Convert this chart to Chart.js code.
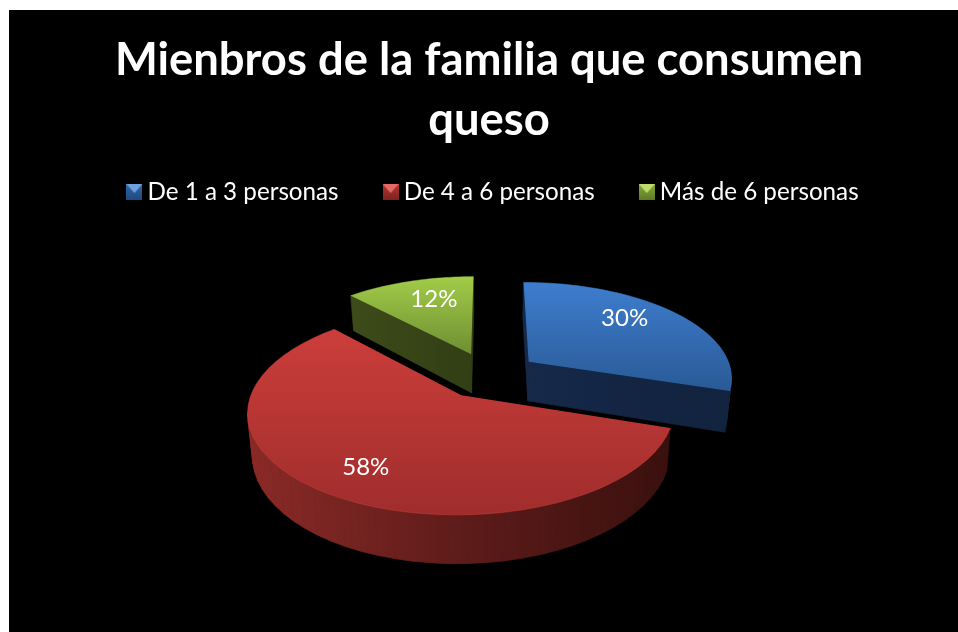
<!DOCTYPE html>
<html lang="es">
<head>
<meta charset="utf-8">
<title>Mienbros de la familia que consumen queso</title>
<script src="https://cdn.jsdelivr.net/npm/chart.js@4"></script>
<style>
html,body{margin:0;padding:0;background:#fff;overflow:hidden}
#c{position:absolute;left:9px;top:10px;background:#000;display:block}
</style>
</head>
<body>
<canvas id="c" width="949" height="622"></canvas>
<script>
const titleLines = ['Mienbros de la familia que consumen', 'queso'];
const categories = ['De 1 a 3 personas', 'De 4 a 6 personas', 'Más de 6 personas'];
const shares = [30, 58, 12];

const baseColors = ['#3470b8', '#b83634', '#8cb040'];
const topRamps = [['#3e7dce', '#295a96'], ['#cc3e3b', '#9f2d2c'], ['#a2cc48', '#6e8e32']];
const wallRamps = [
  ['#16294a', '#132543', '#12233f'],
  ['#8b2a27', '#5e1c1a', '#3a100e'],
  ['#3e4c1b', '#374517', '#323e14']
];
const swatchColors = [['#6f9fdc', '#2f65a8', '#1f4a80'], ['#e56a66', '#b53532', '#7d2220'], ['#bedc6c', '#86aa3a', '#5e7a26']];
const labelRadial = [0.62, 0.79, 0.69];
const labelNudgeX = [3, 7, 7];
const labelNudgeY = [-11.5, -3.5, -3];

const SQUASH = 0.465, PERSPECTIVE = 0.15, DEPTH = 40, TAPER = 0.02, STEPS = 48;
const LEGEND_SHIFT_X = 7, LEGEND_SHIFT_Y = -41;

function makeSwatch(cols) {
  const s = 16, cv = document.createElement('canvas');
  cv.width = s; cv.height = s;
  const x = cv.getContext('2d');
  const g = x.createLinearGradient(0, 0, 0, s);
  g.addColorStop(0, cols[1]); g.addColorStop(1, cols[2]);
  x.fillStyle = g; x.fillRect(0, 0, s, s);
  x.fillStyle = cols[0];
  x.beginPath(); x.moveTo(0, 0); x.lineTo(s, 0); x.lineTo(s / 2, s / 2 + 1); x.closePath(); x.fill();
  return cv;
}
const swatches = swatchColors.map(makeSwatch);

const pie3d = {
  id: 'pie3d',
  afterLayout(chart) {
    const l = chart.legend;
    l.left += LEGEND_SHIFT_X; l.right += LEGEND_SHIFT_X;
    l.top += LEGEND_SHIFT_Y; l.bottom += LEGEND_SHIFT_Y;
  },
  beforeDatasetsDraw(chart) {
    const ctx = chart.ctx;
    const arcs = chart.getDatasetMeta(0).data;
    const project = (arc, px, py) => {
      const s = 1 / (1 - PERSPECTIVE * py / arc.outerRadius);
      return { x: arc.x + px * s, y: arc.y + py * SQUASH * s, s };
    };
    const lower = (arc, p) => ({
      x: arc.x + (p.x - arc.x) * (1 - TAPER),
      y: p.y + DEPTH * p.s
    });
    const polar = (arc, angle, frac) => {
      const mid = (arc.startAngle + arc.endAngle) / 2;
      const off = arc.options.offset || 0;
      const r = arc.outerRadius * frac;
      return project(arc, off * Math.cos(mid) + r * Math.cos(angle), off * Math.sin(mid) + r * Math.sin(angle));
    };
    const order = arcs.map((a, i) => i).sort((i, j) =>
      Math.sin((arcs[i].startAngle + arcs[i].endAngle) / 2) - Math.sin((arcs[j].startAngle + arcs[j].endAngle) / 2));

    order.forEach(i => {
      const arc = arcs[i];
      const pts = [polar(arc, 0, 0)];
      for (let k = 0; k <= STEPS; k++) {
        pts.push(polar(arc, arc.startAngle + (arc.endAngle - arc.startAngle) * k / STEPS, 1));
      }
      const xs = pts.map(p => p.x), ys = pts.map(p => p.y);
      const x0 = Math.min(...xs), x1 = Math.max(...xs), y0 = Math.min(...ys), y1 = Math.max(...ys);

      const wall = ctx.createLinearGradient(x0, 0, x1, 0);
      wallRamps[i].forEach((c, n) => wall.addColorStop(n / 2, c));
      ctx.fillStyle = wall; ctx.strokeStyle = wall; ctx.lineWidth = 0.7;
      for (let k = 0; k < pts.length; k++) {
        const a = pts[k], b = pts[(k + 1) % pts.length];
        if (b.x - a.x >= 0) continue;
        const la = lower(arc, a), lb = lower(arc, b);
        ctx.beginPath();
        ctx.moveTo(a.x, a.y); ctx.lineTo(b.x, b.y); ctx.lineTo(lb.x, lb.y); ctx.lineTo(la.x, la.y);
        ctx.closePath(); ctx.fill(); ctx.stroke();
      }

      const top = ctx.createLinearGradient(0, y0, 0, y1);
      top.addColorStop(0, topRamps[i][0]); top.addColorStop(1, topRamps[i][1]);
      ctx.fillStyle = top;
      ctx.beginPath();
      pts.forEach((p, n) => n ? ctx.lineTo(p.x, p.y) : ctx.moveTo(p.x, p.y));
      ctx.closePath(); ctx.fill();

      ctx.strokeStyle = topRamps[i][0]; ctx.lineWidth = 1; ctx.globalAlpha = 0.55;
      ctx.beginPath();
      pts.slice(1).forEach((p, n) => n ? ctx.lineTo(p.x, p.y) : ctx.moveTo(p.x, p.y));
      ctx.stroke(); ctx.globalAlpha = 1;
    });

    ctx.fillStyle = '#fff';
    ctx.font = '24px Lato';
    ctx.textAlign = 'center'; ctx.textBaseline = 'middle';
    const total = shares.reduce((a, b) => a + b, 0);
    arcs.forEach((arc, i) => {
      const mid = (arc.startAngle + arc.endAngle) / 2;
      const p = polar(arc, mid, labelRadial[i]);
      ctx.fillText(Math.round(shares[i] / total * 100) + '%', p.x + labelNudgeX[i], p.y + labelNudgeY[i]);
    });
    return false;
  }
};

new Chart(document.getElementById('c'), {
  type: 'pie',
  data: {
    labels: categories,
    datasets: [{ data: shares, backgroundColor: baseColors, borderWidth: 0, offset: 50, radius: 204 }]
  },
  plugins: [pie3d],
  options: {
    responsive: false,
    animation: false,
    layout: { padding: { left: 11, bottom: 137 } },
    plugins: {
      tooltip: { enabled: false },
      title: {
        display: true,
        text: titleLines,
        color: '#fff',
        font: { family: 'Lato', size: 45.4, weight: 'bold', lineHeight: 1.31 },
        padding: { top: 21, bottom: 20 }
      },
      legend: {
        position: 'top',
        labels: {
          color: '#fff',
          font: { family: 'Lato', size: 24.2 },
          usePointStyle: true,
          pointStyleWidth: 2,
          padding: 51,
          generateLabels: () => categories.map((t, i) => ({
            text: t, fillStyle: baseColors[i], strokeStyle: baseColors[i], lineWidth: 0,
            pointStyle: swatches[i], index: i, hidden: false, fontColor: '#fff'
          }))
        }
      }
    }
  }
});
</script>
</body>
</html>
